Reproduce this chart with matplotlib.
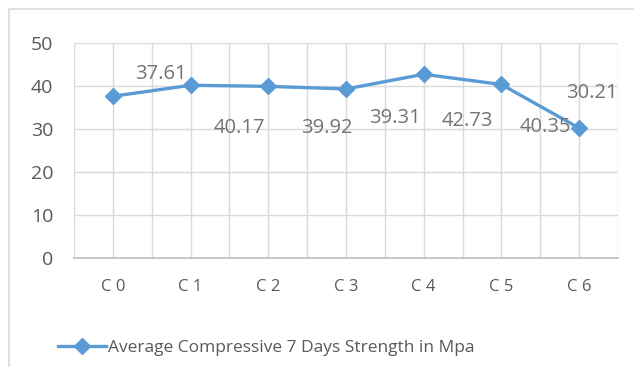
import numpy as np
import matplotlib
matplotlib.use("Agg")
import matplotlib.pyplot as plt
from matplotlib.patches import Rectangle

plt.rcParams['font.family'] = ['Open Sans', 'DejaVu Sans']

# --- Data ---
mixes = ["C 0", "C 1", "C 2", "C 3", "C 4", "C 5", "C 6"]
strength_7d = [37.61, 40.17, 39.92, 39.31, 42.73, 40.35, 30.21]
series_name = "Average Compressive 7 Days Strength in Mpa"
y_ticks = [0, 10, 20, 30, 40, 50]

# label offsets from each point, in pixels (dx, dy)
label_offsets = [(48, 22), (49, -43), (59, -42), (49, -29), (44, -47), (44, -43), (13, 35)]

blue = "#5B9BD5"
grid_col = "#D9D9D9"
text_col = "#595959"

fig = plt.figure(figsize=(6.34, 3.67), dpi=100)
ax = fig.add_axes([74 / 634, 1 - 258 / 367, 544 / 634, 215 / 367])

x = np.arange(len(mixes))
ax.plot(x, strength_7d, color=blue, lw=2.4, marker="D", markersize=8,
        label=series_name, zorder=3)

for xi, v, (dx, dy) in zip(x, strength_7d, label_offsets):
    ax.annotate(f"{v:.2f}", (xi, v), xytext=(dx, dy), textcoords="offset pixels",
                ha="center", va="center", fontsize=14.5, color="#737373", zorder=4)

ax.set_xlim(-0.5, len(mixes) - 0.5)
ax.set_ylim(0, 50)
ax.set_yticks(y_ticks)
ax.set_xticks(x)
ax.set_xticklabels(mixes)

# gridlines at category centres and boundaries
for gx in np.arange(-0.5, len(mixes), 0.5):
    ax.axvline(gx, color=grid_col, lw=1.0, zorder=1)
for gy in y_ticks[1:]:
    ax.axhline(gy, color=grid_col, lw=1.0, zorder=1)

for side in ["top", "right", "left"]:
    ax.spines[side].set_visible(False)
ax.spines["bottom"].set_color("#BFBFBF")
ax.spines["bottom"].set_linewidth(1.2)
ax.tick_params(axis="both", length=0, colors=text_col)
ax.tick_params(axis="y", pad=15, labelsize=14)
ax.tick_params(axis="x", pad=15, labelsize=12)

leg = fig.legend(loc="center", bbox_to_anchor=(0.42, 1 - 348 / 367), frameon=False,
                 fontsize=12.5, handlelength=2.8, handletextpad=0.1)
for t in leg.get_texts():
    t.set_color(text_col)

# chart area outline
fig.patches.append(Rectangle((9 / 634, -0.1), 1.2, 1 - 9 / 367 + 0.1,
                             transform=fig.transFigure, fill=False,
                             edgecolor=grid_col, lw=1.2))

fig.savefig("out.png", dpi=100)
